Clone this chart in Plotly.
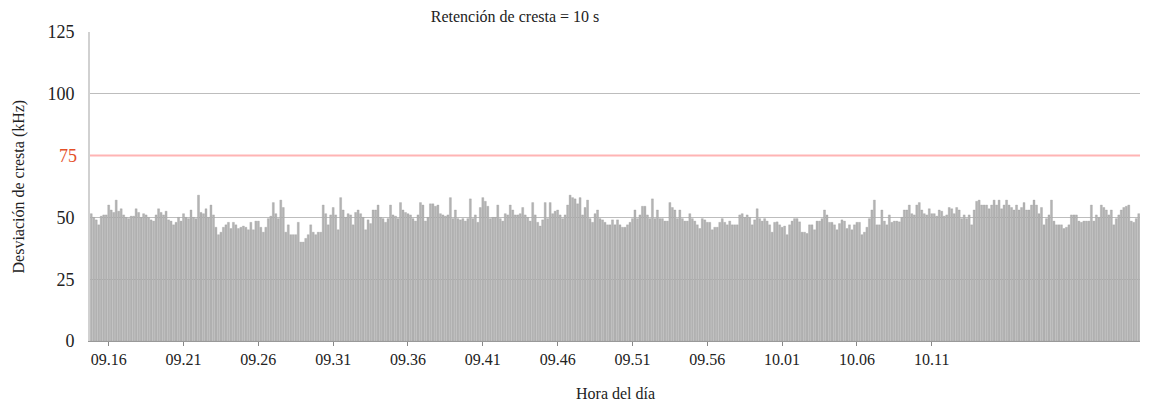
import plotly.graph_objects as go

# Peak deviation (kHz), one value per 10-s peak-hold interval in blocks
block_01 = [51.5, 50, 49, 47, 50.5, 51, 51, 55, 53, 52, 57, 52.5, 53.5, 51, 50, 49.5, 50.5, 50.5,
            53.5, 52, 50, 51.5, 51, 50, 49, 48.5, 51, 53.5, 52, 51, 52.5, 49, 48.5, 47, 48, 50]
block_02 = [48.5, 51.5, 50, 49.5, 53, 50, 49.5, 59, 52, 51.5, 53.5, 50, 55, 51, 46, 43, 44, 46, 47,
            48, 45.5, 48, 47, 45.5, 46, 46.5, 46, 45, 48, 45, 48.5, 48.5, 46, 44, 46, 49.5, 50.5, 56, 51.5]
block_03 = [49.5, 57, 54, 44, 47, 43, 43, 43, 48, 40, 40, 41.5, 43, 47, 44, 43, 44, 44, 55, 51.5,
            47, 51, 54, 51, 45, 58, 53, 50, 51.5, 51, 47, 52, 53, 51.5, 50, 45, 49, 47.5, 53]
block_04 = [53, 55, 50, 49.5, 48, 49.5, 55, 51, 50.5, 49.5, 56, 53, 52, 51.5, 51, 49.5, 48.5, 51, 56,
            55, 48.5, 50, 55.5, 55.5, 54.5, 55, 51.5, 51, 50.5, 51, 58, 49.5, 53, 49.5, 49, 49.5, 48.5, 49.5, 57.5]
block_05 = [49.5, 51, 48, 54, 58, 56.5, 54.5, 49.5, 50, 50, 55, 49.5, 48.5, 51.5, 51, 55, 53, 51, 51,
            51.5, 54, 51, 50, 48.5, 56, 51, 48, 46.5, 49, 56, 49.5, 56, 51.5, 52.5, 53, 51, 49.5, 51]
block_06 = [55, 59, 58, 57.5, 55.5, 58, 51, 54, 57, 49.5, 48, 51.5, 53, 49.5, 49, 48, 47, 47, 49, 47,
            49, 47, 46, 46, 47, 48, 49.5, 53, 49.5, 51, 54.5, 54.5, 51, 49.5, 57.5, 49.5, 53, 49.5, 49.5]
block_07 = [48.5, 48.5, 56, 54, 53, 49.5, 53, 49.5, 48.5, 48.5, 51.5, 49.5, 48.5, 47, 45.5, 49.5, 49,
            48, 48, 45, 46, 46, 48, 49.5, 48, 47, 48.5, 47, 47, 47, 51, 51.5, 50, 51, 50, 47, 49, 53.5, 49.5]
block_08 = [48.5, 49.5, 48.5, 47, 44, 48, 48.2, 47, 46, 46.5, 43, 47, 48.5, 49.5, 49.5, 48.2, 44, 44,
            43.5, 47, 47, 45, 48.5, 48.5, 49.5, 53, 51, 48, 48, 47, 45, 47.5, 49, 48.5, 45.5, 47, 45, 47, 48]
block_09 = [48, 43, 44, 46, 49.5, 53, 57, 47, 47, 53, 48.5, 47, 51, 48, 48.5, 48.5, 48.2, 50, 53, 53,
            55, 51.5, 51, 55, 56, 53, 51.5, 51, 53.5, 51.5, 51.5, 50.5, 53, 52.5, 50.5, 51, 54, 53.5, 51.5]
block_10 = [54, 53, 49.5, 51, 49.5, 51, 47, 53, 56.5, 57, 55, 55, 55, 53.5, 55, 57, 55, 57, 53.5, 55,
            57, 55, 54, 53, 55, 53, 54, 56, 53, 53, 55, 57, 55, 51.5, 54, 47, 49.5, 51]
block_11 = [57, 48.5, 47, 47, 47, 45.5, 46, 47, 51, 51, 51, 48.5, 48, 48.5, 48.5, 48.5, 55, 48.5, 51,
            50, 55, 54, 53, 51, 53, 47, 49.5, 51, 53, 54, 54.5, 55, 48.5, 48, 49.5, 51.5]

deviation = (block_01 + block_02 + block_03 + block_04 + block_05 + block_06 + block_07
             + block_08 + block_09 + block_10 + block_11)

tick_labels = ["09.16", "09.21", "09.26", "09.31", "09.36", "09.41",
               "09.46", "09.51", "09.56", "10.01", "10.06", "10.11"]
first_label_index = 7
samples_per_label = 30

y_ticks = [0, 25, 50, 100, 125]
limit_value = 75

title_text = "Retención de cresta = 10 s"
x_title = "Hora del día"
y_title = "Desviación de cresta (kHz)"

n = len(deviation)
idx = list(range(n))
tick_pos = [first_label_index + samples_per_label * k for k in range(len(tick_labels))]

FONT = "Liberation Serif, Times New Roman, DejaVu Serif, serif"
TXT = "#222222"

fig = go.Figure()
fig.add_trace(go.Bar(
    x=idx, y=deviation,
    marker=dict(color="rgb(180,180,180)", line=dict(color="rgb(148,148,148)", width=0.3)),
    hoverinfo="y",
))

fig.add_shape(type="line", xref="paper", yref="y", x0=0, x1=1, y0=limit_value, y1=limit_value,
              line=dict(color="rgb(255,180,180)", width=2), layer="above")

fig.add_annotation(xref="paper", yref="y", x=0, y=limit_value, text=str(limit_value),
                   showarrow=False, xanchor="right", xshift=-11,
                   font=dict(family=FONT, size=18, color="rgb(228,80,40)"))
fig.add_annotation(xref="paper", yref="paper", x=0.5, y=0, yshift=-52, text=x_title,
                   showarrow=False, yanchor="middle",
                   font=dict(family=FONT, size=16, color=TXT))
fig.add_annotation(xref="paper", yref="paper", x=0, xshift=-72, y=0.5, text=y_title,
                   textangle=-90, showarrow=False, xanchor="center",
                   font=dict(family=FONT, size=16, color=TXT))

fig.update_layout(
    width=1150, height=412,
    margin=dict(l=82, r=18, t=24, b=79),
    paper_bgcolor="white", plot_bgcolor="white",
    bargap=0.2,
    showlegend=False,
    title=dict(text=title_text, x=(515 - 8) / 1150, xanchor="center", y=1 - 8 / 412, yref="container",
               yanchor="middle", font=dict(family=FONT, size=16, color=TXT)),
    font=dict(family=FONT, color=TXT),
)
fig.update_xaxes(
    range=[-0.5, n - 0.5], tickmode="array", tickvals=tick_pos, ticktext=tick_labels,
    ticks="outside", ticklen=4, tickcolor="#888", showgrid=False,
    showline=True, linecolor="#999", linewidth=1,
    tickfont=dict(family=FONT, size=16, color=TXT), zeroline=False,
)
fig.update_yaxes(
    range=[0, 125], tickmode="array", tickvals=y_ticks,
    showgrid=True, gridcolor="rgba(0,0,0,0.26)", gridwidth=1.4, layer="above traces",
    showline=True, linecolor="rgba(0,0,0,0.18)", linewidth=2, zeroline=False,
    ticks="", ticklabelstandoff=10,
    tickfont=dict(family=FONT, size=18, color=TXT),
)

fig.write_html("out.html")
